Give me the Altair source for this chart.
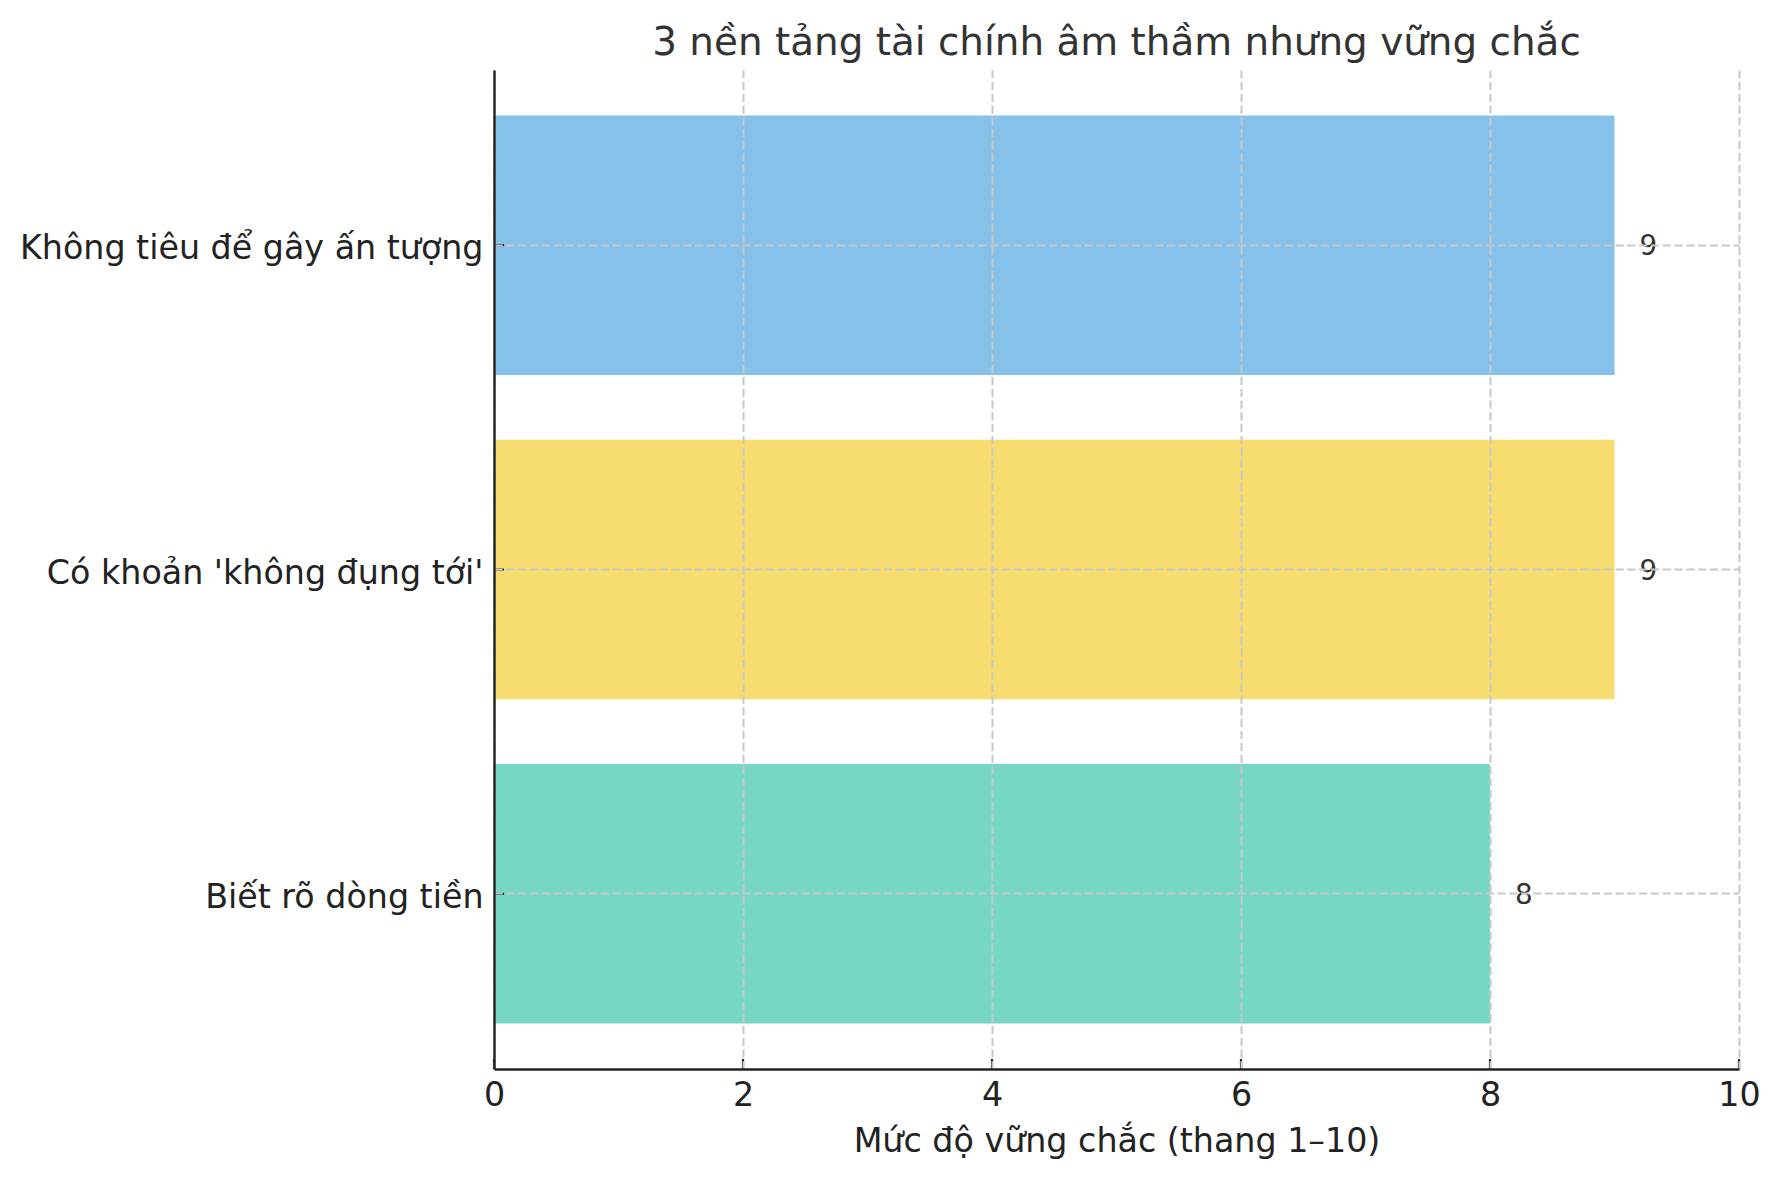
import altair as alt
import pandas as pd

# data
categories = ["Không tiêu để gây ấn tượng", "Có khoản 'không đụng tới'", "Biết rõ dòng tiền"]
scores = [9, 9, 8]
colors = ["#85C1E9", "#F7DC6F", "#76D7C4"]
x_ticks = [0, 2, 4, 6, 8, 10]

FONT = "DejaVu Sans"
W, H = 1245, 999
GRID = dict(grid=True, gridColor="#c8c8c8", gridDash=[8.2, 3.6], gridWidth=2.0,
            domainColor="#222222", domainWidth=2.4, zindex=1)

df = pd.DataFrame({"cat": categories, "value": scores})
ticks_df = pd.DataFrame({"t": x_ticks})

y_enc = alt.Y(
    "cat:N",
    sort=categories,
    title=None,
    scale=alt.Scale(paddingInner=0.2, paddingOuter=0.14),
    axis=alt.Axis(
        ticks=False,
        bandPosition=0.5,
        labelPadding=11,
        labelOffset=4,
        labelLimit=1000,
        labelFontSize=33.3,
        labelFont=FONT,
        labelColor="#222222",
        **GRID,
    ),
)

x_scale = alt.Scale(domain=[0, 10], nice=False)

bars = (
    alt.Chart(df)
    .mark_bar()
    .encode(
        x=alt.X(
            "value:Q",
            scale=x_scale,
            title="Mức độ vững chắc (thang 1–10)",
            axis=alt.Axis(
                values=x_ticks,
                format="d",
                ticks=False,
                labelFlush=False,
                labelPadding=10,
                labelFontSize=33.3,
                labelFont=FONT,
                labelColor="#222222",
                titleFontSize=33.3,
                titleFont=FONT,
                titleFontWeight="normal",
                titleColor="#222222",
                titlePadding=14,
                **GRID,
            ),
        ),
        y=y_enc,
        color=alt.Color("cat:N", scale=alt.Scale(domain=categories, range=colors), legend=None),
    )
)

labels = (
    alt.Chart(df)
    .transform_calculate(pos="datum.value + 0.2")
    .mark_text(align="left", baseline="middle", dy=2, fontSize=27.8, font=FONT, color="#333333")
    .encode(
        x=alt.X("pos:Q", scale=x_scale),
        y=alt.Y("cat:N", sort=categories),
        text=alt.Text("value:Q"),
    )
)

# matplotlib-style inward ticks
x_tick_marks = (
    alt.Chart(ticks_df)
    .mark_rule(color="#222222", strokeWidth=2.2)
    .encode(x=alt.X("t:Q", scale=x_scale), y=alt.value(H), y2=alt.value(H - 10))
)

y_tick_marks = (
    alt.Chart(df)
    .mark_rule(color="#222222", strokeWidth=2.2)
    .encode(y=alt.Y("cat:N", sort=categories), x=alt.value(0), x2=alt.value(10))
)

chart = (
    alt.layer(bars, labels, x_tick_marks, y_tick_marks)
    .properties(
        width=W,
        height=H,
        background="white",
        autosize=alt.AutoSizeParams(type="none"),
        padding={"left": 486, "top": 62, "right": 32, "bottom": 103},
        title=alt.TitleParams(
            "3 nền tảng tài chính âm thầm nhưng vững chắc",
            fontSize=38.9,
            font=FONT,
            fontWeight="normal",
            color="#333333",
            anchor="middle",
            frame="group",
            baseline="alphabetic",
            offset=15,
            dy=39,
        ),
    )
    .configure_view(stroke="transparent")
)

chart.save("out.html", embed_options={"renderer": "svg", "actions": False})
